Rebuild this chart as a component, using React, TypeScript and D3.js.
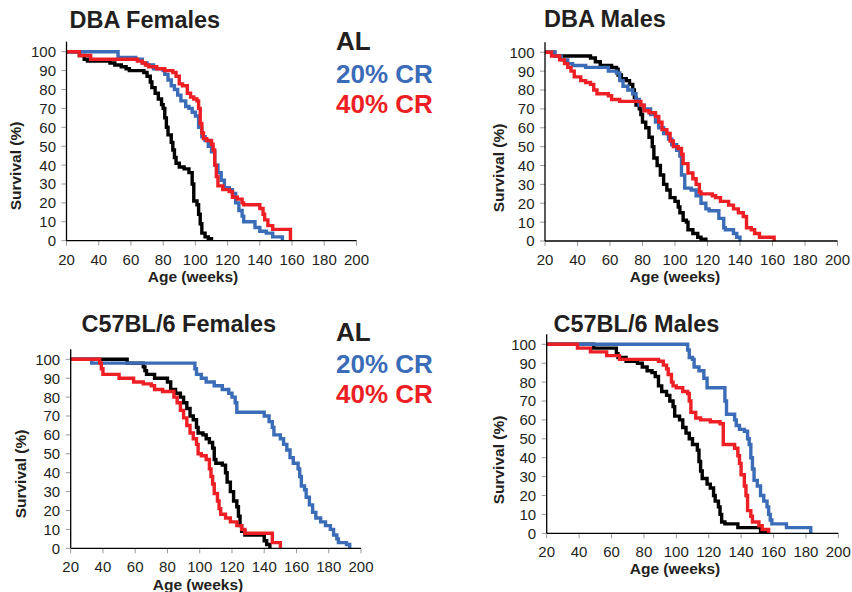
import React from 'react';
import * as d3 from 'd3';

type Pt = [number, number];

const xTicks = [20, 40, 60, 80, 100, 120, 140, 160, 180, 200];
const yTicks = [0, 10, 20, 30, 40, 50, 60, 70, 80, 90, 100];
const seriesNames = ['AL', '20% CR', '40% CR'];
const seriesColors = ['#000000', '#3b6cb7', '#ed1f24'];
const xAxisTitle = 'Age (weeks)';
const yAxisTitle = 'Survival (%)';

// DBA Females
const dbaFemalesAL: Pt[] = [[20,100],[28,98],[31,96],[33,95],[47,94],[50,93],[54,92],[57,91],[59,90],[68,89],[70,87],[72,84],[73,81],[75,78],[77,75],[79,72],[80,70],[81,65],[82,60],[83,56],[85,52],[86,48],[87,44],[88,41],[90,39],[93,38],[96,36],[98,30],[99,21],[101,19],[102,14],[103,9],[104,4],[106,2],[108,1],[110,0]];
const dbaFemales20: Pt[] = [[20,100],[52,97],[63,96],[67,94],[70,93],[74,91],[80,90],[81,88],[83,85],[85,82],[87,80],[89,77],[91,74],[94,71],[96,70],[98,68],[100,66],[102,60],[104,55],[106,53],[108,50],[110,47],[112,40],[114,36],[116,32],[118,28],[121,27],[123,25],[125,20],[127,16],[129,13],[130,10],[137,7],[140,5],[144,4],[148,2],[154,0]];
const dbaFemales40: Pt[] = [[20,100],[28,98],[35,96],[64,95],[67,94],[69,93],[71,92],[76,91],[81,90],[86,89],[88,87],[90,83],[92,82],[95,78],[97,76],[99,75],[101,74],[102,70],[103,62],[104,57],[105,54],[107,53],[110,51],[111,48],[112,40],[113,34],[114,29],[117,27],[121,26],[123,23],[126,22],[129,20],[130,19],[140,17],[142,14],[143,11],[145,8],[148,6],[159,0]];

// DBA Males
const dbaMalesAL: Pt[] = [[20,100],[26,98],[48,97],[51,95],[54,93],[61,92],[64,91],[65,88],[67,86],[70,85],[72,83],[74,80],[75,76],[76,72],[78,70],[79,67],[80,63],[82,60],[84,55],[86,50],[87,44],[89,40],[91,35],[93,30],[95,27],[97,23],[100,21],[102,18],[103,15],[105,11],[107,10],[108,6],[111,4],[114,2],[116,1],[119,0]];
const dbaMales20: Pt[] = [[20,100],[26,98],[30,96],[34,94],[37,93],[45,92],[59,90],[64,89],[66,85],[68,82],[71,80],[74,78],[76,75],[78,72],[81,70],[85,67],[88,63],[90,60],[93,57],[96,54],[98,51],[101,48],[103,45],[104,35],[106,28],[110,27],[113,24],[116,20],[119,17],[121,16],[127,12],[130,7],[131,6],[136,4],[138,2],[140,0]];
const dbaMales40: Pt[] = [[20,100],[24,98],[29,96],[32,94],[34,92],[36,90],[38,87],[42,85],[45,84],[48,83],[50,80],[52,78],[59,77],[61,75],[66,74],[79,72],[81,69],[84,68],[88,66],[90,63],[92,59],[95,57],[97,53],[99,50],[102,49],[104,46],[105,41],[108,36],[111,33],[113,30],[115,26],[116,25],[123,24],[125,23],[128,21],[133,19],[136,17],[139,15],[142,13],[144,7],[147,6],[149,4],[152,2],[161,0]];

// C57BL/6 Females
const c57FemalesAL: Pt[] = [[20,100],[55,98],[65,96],[66,94],[67,92],[69,92],[72,90],[80,88],[82,84],[85,82],[88,80],[90,77],[92,74],[94,70],[96,68],[98,64],[99,61],[102,60],[104,58],[106,56],[108,53],[109,47],[110,45],[114,44],[116,40],[117,35],[119,30],[121,25],[123,22],[124,17],[125,12],[126,9],[128,7],[140,4],[141.5,2],[143.5,0]];
const c57Females20: Pt[] = [[20,100],[33,98],[97,95],[98,92],[101,90],[104,88],[109,86],[114,84],[118,82],[120,80],[122,77],[123,72],[140,70],[143,67],[145,64],[146,60],[150,58],[152,55],[154,52],[156,48],[158,45],[161,42],[162,38],[163,33],[165,31],[166,27],[168,23],[170,19],[172,16],[175,14],[178,12],[181,10],[183,7],[185,5],[186,3],[191,2],[193,0]];
const c57Females40: Pt[] = [[20,100],[38,98],[39,95],[40,92],[50,90],[59,88],[65,87],[70,86],[72,84],[77,83],[84,80],[86,77],[88,73],[90,69],[92,65],[94,61],[96,58],[98,55],[99,50],[101,49],[104,47],[106,42],[107,38],[108,34],[109,29],[111,25],[112,21],[113,18],[116,16],[119,14],[123,12],[126,10],[128,8],[145,3],[150,0]];

// C57BL/6 Males
const c57MalesAL: Pt[] = [[20,100],[49,98],[63,95],[64,93],[69,91],[76,90],[79,88],[82,86],[85,85],[87,83],[89,78],[91,75],[94,73],[96,70],[98,67],[99,62],[102,60],[104,56],[106,53],[108,50],[110,47],[113,44],[114,38],[115,33],[116,29],[119,26],[121,24],[123,20],[124,17],[126,14],[127,10],[128,6],[130,5],[138,3],[152,1],[155,0]];
const c57Males20: Pt[] = [[20,100],[107,97],[108,93],[110,92],[111,88],[114,86],[117,82],[119,77],[130,70],[131,63],[136,60],[137,57],[139,55],[142,54],[144,50],[145,47],[146,40],[147,34],[148,28],[150,25],[152,20],[154,17],[156,14],[157,10],[158,7],[159,5],[168,3],[183,0]];
const c57Males40: Pt[] = [[20,100],[39,98],[47,96],[57,94],[65,92],[89,91],[92,89],[94,87],[95,84],[97,80],[98,78],[100,77],[104,75],[107,74],[108,70],[109,64],[112,61],[115,60],[121,59],[127,58],[129,47],[136,45],[138,41],[139,37],[140,31],[142,25],[143,20],[144,12],[146,9],[147,6],[151,4],[153,2],[157,0]];

interface PanelCfg {
  title: string;
  series: Pt[][];
  x0: number; x1: number; yTop: number; yBot: number;
  titleX: number; titleY: number;
  yTitleX: number; yTitleY: number;
  xTitleX: number; xTitleY: number;
  legend?: { x: number; ys: number[] };
}

const panels: PanelCfg[] = [
  { title: 'DBA Females', series: [dbaFemalesAL, dbaFemales20, dbaFemales40],
    x0: 66.5, x1: 356.5, yTop: 51.7, yBot: 240.7, titleX: 69.5, titleY: 28,
    yTitleX: 21, yTitleY: 166, xTitleX: 193, xTitleY: 282,
    legend: { x: 336, ys: [49.5, 82.5, 112.5] } },
  { title: 'DBA Males', series: [dbaMalesAL, dbaMales20, dbaMales40],
    x0: 545, x1: 837.5, yTop: 52.3, yBot: 241, titleX: 544, titleY: 27,
    yTitleX: 504, yTitleY: 168, xTitleX: 675, xTitleY: 282 },
  { title: 'C57BL/6 Females', series: [c57FemalesAL, c57Females20, c57Females40],
    x0: 70.7, x1: 361, yTop: 359.3, yBot: 548.3, titleX: 81.5, titleY: 332,
    yTitleX: 26, yTitleY: 474, xTitleX: 198, xTitleY: 589.5,
    legend: { x: 336, ys: [340.5, 372.5, 403] } },
  { title: 'C57BL/6 Males', series: [c57MalesAL, c57Males20, c57Males40],
    x0: 546.7, x1: 838.3, yTop: 344.3, yBot: 533.3, titleX: 553.5, titleY: 332.3,
    yTitleX: 504, yTitleY: 460, xTitleX: 675, xTitleY: 574 },
];

const FONT = '"Liberation Sans", Arial, Helvetica, sans-serif';
const TEXT = '#231f20';

function Panel({ p }: { p: PanelCfg }) {
  const x = d3.scaleLinear().domain([20, 200]).range([p.x0, p.x1]);
  const y = d3.scaleLinear().domain([0, 100]).range([p.yBot, p.yTop]);
  const line = d3.line<Pt>().x(d => x(d[0])).y(d => y(d[1])).curve(d3.curveStepAfter);
  return (
    <g>
      <text x={p.titleX} y={p.titleY} fontSize={23.5} fontWeight="bold" fill={TEXT} fontFamily={FONT}>{p.title}</text>
      {yTicks.map(t => (
        <g key={'y' + t}>
          <line x1={p.x0 - 5} x2={p.x0} y1={y(t)} y2={y(t)} stroke="#9a9a9a" strokeWidth={1} />
          <text x={p.x0 - 10.5} y={y(t)} dy="0.36em" textAnchor="end" fontSize={15} fill={TEXT} fontFamily={FONT}>{t}</text>
        </g>
      ))}
      {xTicks.map(t => (
        <g key={'x' + t}>
          <line x1={x(t)} x2={x(t)} y1={p.yBot} y2={p.yBot + 5} stroke="#9a9a9a" strokeWidth={1} />
          <text x={x(t)} y={p.yBot + 24} textAnchor="middle" fontSize={15} fill={TEXT} fontFamily={FONT}>{t}</text>
        </g>
      ))}
      {p.series.map((s, i) => (
        <path key={'s' + i} d={line(s) || ''} fill="none" stroke={seriesColors[i]} strokeWidth={3.4} strokeLinejoin="miter" />
      ))}
      <line x1={p.x0} x2={p.x0} y1={p.yTop - 10} y2={p.yBot} stroke="#000" strokeWidth={1.3} />
      <line x1={p.x0} x2={p.x1} y1={p.yBot} y2={p.yBot} stroke="#000" strokeWidth={1.3} />
      <text x={p.xTitleX} y={p.xTitleY} textAnchor="middle" fontSize={15.5} fontWeight="bold" fill={TEXT} fontFamily={FONT}>{xAxisTitle}</text>
      <text transform={`translate(${p.yTitleX},${p.yTitleY}) rotate(-90)`} textAnchor="middle" fontSize={15.5} fontWeight="bold" fill={TEXT} fontFamily={FONT}>{yAxisTitle}</text>
      {p.legend && seriesNames.map((n, i) => (
        <text key={'l' + i} x={p.legend!.x} y={p.legend!.ys[i]} fontSize={26} fontWeight="bold" fill={i === 0 ? TEXT : seriesColors[i]} fontFamily={FONT}>{n}</text>
      ))}
    </g>
  );
}

export default function App() {
  return (
    <svg width={852} height={592} style={{ position: 'absolute', left: 0, top: 0, background: '#fff' }}>
      <rect width={852} height={592} fill="#fff" />
      {panels.map((p, i) => <Panel key={i} p={p} />)}
    </svg>
  );
}
